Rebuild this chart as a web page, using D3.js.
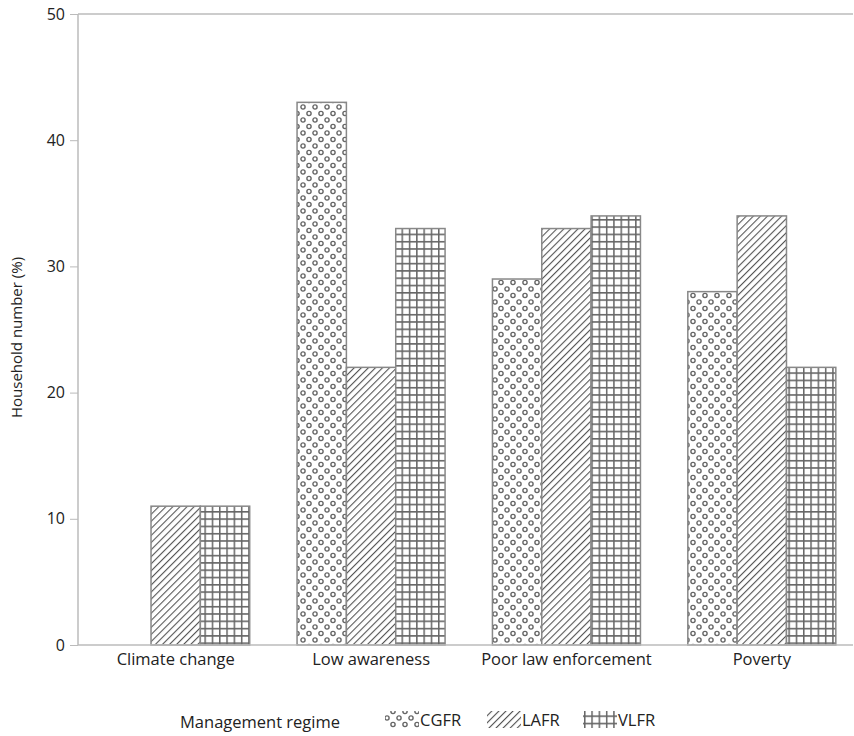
<!DOCTYPE html>
<html><head><meta charset="utf-8">
<script src="https://cdn.jsdelivr.net/npm/d3@7"></script>
<style>body{margin:0;background:#fff}svg{display:block}text{font-family:"Open Sans","Noto Sans",sans-serif;fill:#222}</style>
</head><body><svg id="c" width="854" height="736"></svg>
<script>
const categories = ["Climate change","Low awareness","Poor law enforcement","Poverty"];
const seriesNames = ["CGFR","LAFR","VLFR"];
const CGFR = [0,43,29,28];
const LAFR = [11,22,33,34];
const VLFR = [11,33,34,22];
const yTicks = [0,10,20,30,40,50];
const values = {CGFR, LAFR, VLFR};

const svg = d3.select("#c");
const m = {l:78, r:853, t:14, b:645};
const x = d3.scaleBand().domain(categories).range([m.l, 859.5]).paddingInner(0).paddingOuter(0);
const xs = d3.scaleBand().domain(seriesNames).range([0, x.bandwidth()]).paddingInner(0).paddingOuter(0.48);
const y = d3.scaleLinear().domain([0,50]).range([m.b, m.t]);

const defs = svg.append("defs");
const p1 = defs.append("pattern").attr("id","pCGFR").attr("patternUnits","userSpaceOnUse").attr("width",12).attr("height",13);
p1.append("rect").attr("width",12).attr("height",13).attr("fill","#fff");
[[3,3],[9,9.5]].forEach(([cx,cy])=>p1.append("circle").attr("cx",cx).attr("cy",cy).attr("r",2.1).attr("fill","none").attr("stroke","#666").attr("stroke-width",1.4));
const p2 = defs.append("pattern").attr("id","pLAFR").attr("patternUnits","userSpaceOnUse").attr("width",5).attr("height",5).attr("patternTransform","rotate(45)");
p2.append("rect").attr("width",5).attr("height",5).attr("fill","#fff");
p2.append("line").attr("x1",0).attr("y1",0).attr("x2",0).attr("y2",5).attr("stroke","#555").attr("stroke-width",2.2);
const p3 = defs.append("pattern").attr("id","pVLFR").attr("patternUnits","userSpaceOnUse").attr("width",7.3).attr("height",7.3);
p3.append("rect").attr("width",7.3).attr("height",7.3).attr("fill","#fff");
p3.append("path").attr("d","M0.75,0V7.3M0,0.75H7.3").attr("stroke","#666").attr("stroke-width",1.5);

svg.append("line").attr("x1",m.l).attr("x2",m.r).attr("y1",m.t).attr("y2",m.t).attr("stroke","#bbb").attr("stroke-width",1.5);

const g = svg.append("g");
seriesNames.forEach(s=>{
  g.selectAll(null).data(categories.map((c,i)=>({c, v:values[s][i]})).filter(d=>d.v>0)).enter()
   .append("rect")
   .attr("x",d=>x(d.c)+xs(s))
   .attr("y",d=>y(d.v))
   .attr("width",xs.bandwidth())
   .attr("height",d=>y(0)-y(d.v))
   .attr("fill",`url(#p${s})`)
   .attr("stroke","#888").attr("stroke-width",1.5);
});

const ya = svg.append("g").attr("transform",`translate(${m.l},0)`).call(d3.axisLeft(y).tickValues(yTicks).tickSize(8).tickPadding(5).tickFormat(d3.format("d")));
ya.select(".domain").attr("stroke","#bbb").attr("stroke-width",1.5).attr("d",`M0,${m.b}V${m.t}`);
ya.selectAll(".tick line").attr("stroke","#bbb");
ya.selectAll("text").style("font-size","16px").attr("fill","#222");

const xa = svg.append("g").attr("transform",`translate(0,${m.b})`).call(d3.axisBottom(x).tickSize(0).tickPadding(8));
xa.select(".domain").attr("stroke","#bbb").attr("stroke-width",1.5).attr("d",`M${m.l},0H${m.r}`);
xa.selectAll("text").style("font-size","16.5px").attr("fill","#222");

svg.append("text").attr("transform",`translate(22,${(m.t+m.b)/2+8}) rotate(-90)`).attr("text-anchor","middle").style("font-size","15px").text("Household number (%)");

svg.append("text").attr("x",180).attr("y",728).style("font-size","16.5px").text("Management regime");
const lx = [385,487,583];
seriesNames.forEach((s,i)=>{
  svg.append("rect").attr("x",lx[i]).attr("y",711).attr("width",34).attr("height",17).attr("fill",`url(#p${s})`);
  svg.append("text").attr("x",lx[i]+35).attr("y",726).style("font-size","16.5px").text(s);
});
</script></body></html>
